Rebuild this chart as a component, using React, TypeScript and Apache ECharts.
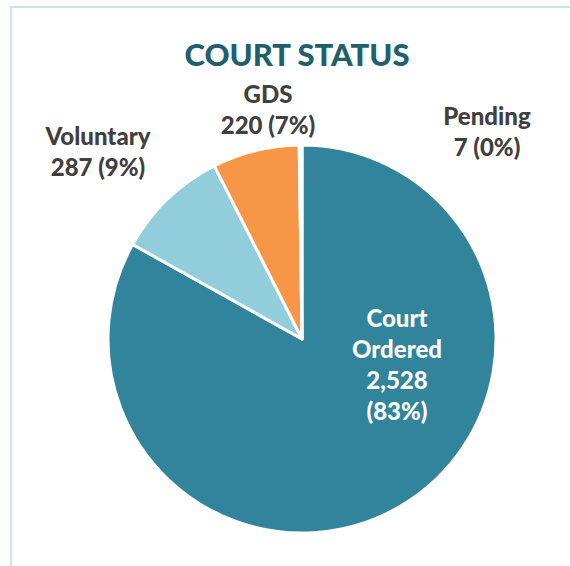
import React, { useEffect, useRef } from "react";
import * as echarts from "echarts";

const TITLE = "COURT STATUS";
const categories = ["Court Ordered", "Voluntary", "GDS", "Pending"];
const values = [2528, 287, 220, 7];
const colors = ["#31849B", "#92CDDC", "#F79646", "#4BACC6"];
// label anchor points (label layout only)
const labelPos = [
  [397, 364],
  [98, 151],
  [268, 109],
  [487, 131],
];

export default function App() {
  const ref = useRef<HTMLDivElement>(null);
  useEffect(() => {
    if (!ref.current) return;
    const chart = echarts.init(ref.current, null, { renderer: "svg" });
    const total = values.reduce((a, b) => a + b, 0);
    const font = "Lato, 'Open Sans', sans-serif";
    chart.setOption({
      animation: false,
      backgroundColor: "#ffffff",
      title: {
        text: TITLE,
        left: 292,
        top: 33,
        textAlign: "center",
        textStyle: { fontFamily: font, fontSize: 31, fontWeight: 900, color: "#215E6E" },
      },
      graphic: [
        {
          type: "rect",
          shape: { x: 11, y: 7, width: 700, height: 700 },
          style: { fill: "none", stroke: "#B7DEE8", lineWidth: 1.5 },
          silent: true,
        },
      ],
      series: [
        {
          type: "pie",
          center: [302, 339],
          radius: [0, 194],
          startAngle: 90,
          clockwise: true,
          data: categories.map((name, i) => ({
            name,
            value: values[i],
            itemStyle: { color: colors[i] },
            label: {
              color: i === 0 ? "#ffffff" : "#404040",
            },
          })),
          itemStyle: { borderColor: "#ffffff", borderWidth: 3 },
          labelLine: { show: false },
          label: {
            show: true,
            position: "outside",
            overflow: "none",
            fontFamily: font,
            fontSize: 24,
            fontWeight: 900,
            lineHeight: 31,
            align: "center",
            formatter: (p: any) => {
              const pct = Math.round((p.value / total) * 100);
              const v = p.value.toLocaleString("en-US");
              if (p.dataIndex === 0) return p.name.replace(" ", "\n") + "\n" + v + "\n(" + pct + "%)";
              return p.name + "\n" + v + " (" + pct + "%)";
            },
          },
          labelLayout: (p: any) => ({
            x: labelPos[p.dataIndex][0],
            y: labelPos[p.dataIndex][1],
            align: "center",
            verticalAlign: "middle",
          }),
        },
      ],
    });
    return () => chart.dispose();
  }, []);
  return (
    <div
      ref={ref}
      style={{ position: "fixed", left: 0, top: 0, width: 570, height: 566 }}
    />
  );
}
